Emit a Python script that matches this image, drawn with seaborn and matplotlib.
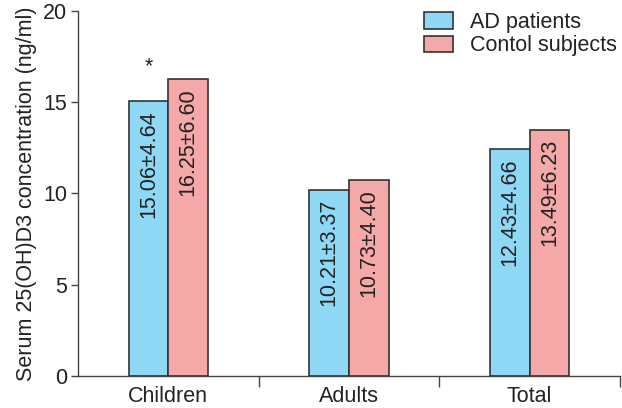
import matplotlib
matplotlib.use("Agg")
import matplotlib.pyplot as plt
import seaborn as sns
import pandas as pd

categories = ["Children", "Adults", "Total"]
groups = ["AD patients", "Contol subjects"]
ad_values = [15.06, 10.21, 12.43]
ctrl_values = [16.25, 10.73, 13.49]
ad_labels = ["15.06±4.64", "10.21±3.37", "12.43±4.66"]
ctrl_labels = ["16.25±6.60", "10.73±4.40", "13.49±6.23"]

sns.set_style("white")
plt.rcParams['font.family'] = ['Liberation Sans', 'DejaVu Sans']

df = pd.DataFrame({
    "cat": categories * 2,
    "grp": [groups[0]] * 3 + [groups[1]] * 3,
    "val": ad_values + ctrl_values,
    "lab": ad_labels + ctrl_labels,
})

FS = 15.5
fig = plt.figure(figsize=(6.22, 4.08), dpi=100)
ax = fig.add_axes([78 / 622, 32 / 408, (620 - 78) / 622, (376 - 11) / 408])

sns.barplot(data=df, x="cat", y="val", hue="grp", order=categories, hue_order=groups,
            palette=["#8fd8f5", "#f5a8a8"], width=0.44, gap=0, edgecolor="#333333",
            linewidth=1.2, errorbar=None, ax=ax, saturation=1)

labels_by_grp = [ad_labels, ctrl_labels]
for gi, cont in enumerate(ax.containers):
    for bi, bar in enumerate(cont):
        xc = bar.get_x() + bar.get_width() / 2
        h = bar.get_height()
        ax.text(xc, h - 0.5, labels_by_grp[gi][bi], rotation=90, ha="center", va="top",
                fontsize=FS, color="#222222")

# asterisk above Children AD bar
b0 = ax.containers[0][0]
ax.text(b0.get_x() + b0.get_width() / 2, b0.get_height() + 1.3, "*", ha="center", va="bottom",
        fontsize=FS, color="#222222")

ax.set_ylim(0, 20)
ax.set_xlim(-0.5, 2.5)
ax.set_yticks([0, 5, 10, 15, 20])
ax.set_xticks([0.5, 1.5, 2.5], minor=True)
ax.set_xlabel("")
ax.set_ylabel("Serum 25(OH)D3 concentration (ng/ml)", fontsize=FS, color="#222222", labelpad=4)
ax.tick_params(axis="y", left=True, length=5, width=1, color="#444444", labelsize=FS,
               labelcolor="#222222", pad=3)
ax.tick_params(axis="x", which="major", bottom=False, labelsize=FS, labelcolor="#222222", pad=4)
ax.tick_params(axis="x", which="minor", bottom=True, length=8, width=1, color="#444444")
for s in ["top", "right"]:
    ax.spines[s].set_visible(False)
for s in ["left", "bottom"]:
    ax.spines[s].set_color("#444444")
    ax.spines[s].set_linewidth(1)

leg = ax.legend(loc="upper right", bbox_to_anchor=(1.03, 1.05), frameon=False, fontsize=FS,
                handlelength=1.35, handleheight=0.8, labelspacing=0.1, handletextpad=0.8)
for t in leg.get_texts():
    t.set_color("#222222")

fig.savefig("out.png", dpi=100)
